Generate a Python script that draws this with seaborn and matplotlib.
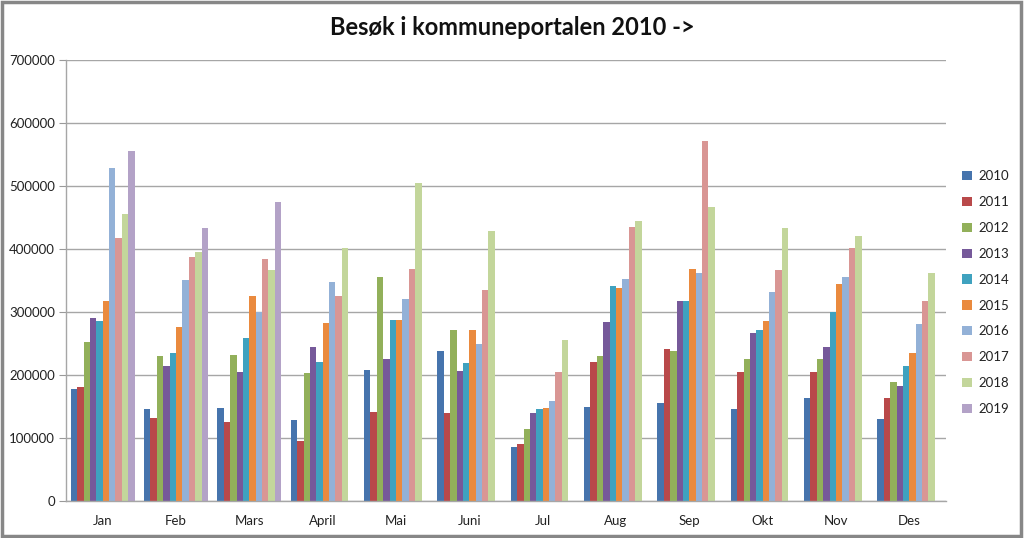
import numpy as np
import pandas as pd
import matplotlib
matplotlib.use("Agg")
import matplotlib.pyplot as plt
import seaborn as sns
from matplotlib.patches import Rectangle

months = ["Jan", "Feb", "Mars", "April", "Mai", "Juni", "Jul", "Aug", "Sep", "Okt", "Nov", "Des"]
years = ["2010", "2011", "2012", "2013", "2014", "2015", "2016", "2017", "2018", "2019"]

v2010 = [178000, 146000, 148000, 128000, 208000, 238000, 86000, 150000, 155000, 146000, 164000, 130000]
v2011 = [181000, 132000, 126000, 96000, 142000, 139000, 91000, 220000, 241000, 205000, 204000, 163000]
v2012 = [253000, 230000, 231000, 203000, 356000, 272000, 115000, 230000, 238000, 225000, 225000, 189000]
v2013 = [290000, 214000, 205000, 244000, 226000, 207000, 140000, 284000, 317000, 266000, 245000, 182000]
v2014 = [286000, 235000, 259000, 220000, 287000, 219000, 146000, 341000, 317000, 271000, 300000, 215000]
v2015 = [318000, 276000, 326000, 282000, 288000, 271000, 147000, 338000, 369000, 286000, 344000, 235000]
v2016 = [529000, 351000, 300000, 347000, 320000, 249000, 158000, 352000, 362000, 332000, 355000, 281000]
v2017 = [418000, 388000, 384000, 326000, 368000, 335000, 204000, 435000, 572000, 367000, 402000, 317000]
v2018 = [456000, 396000, 367000, 402000, 505000, 428000, 256000, 444000, 467000, 434000, 420000, 362000]
v2019 = [555000, 433000, 474000, None, None, None, None, None, None, None, None, None]

colors = ["#4674AD", "#B9494A", "#92B05A", "#76599A", "#3FA2BF", "#EA8A3E",
          "#93B1D7", "#D99694", "#C3D69B", "#B3A2C7"]

series = [v2010, v2011, v2012, v2013, v2014, v2015, v2016, v2017, v2018, v2019]
rows = []
for y, vals in zip(years, series):
    for m, v in zip(months, vals):
        if v is not None:
            rows.append({"Måned": m, "År": y, "Besøk": v})
df = pd.DataFrame(rows)

sns.set_theme(style="white")
plt.rcParams["font.family"] = ["Lato", "DejaVu Sans"]

fig = plt.figure(figsize=(10.24, 5.38), dpi=100)
ax = fig.add_axes([66 / 1024, 1 - 501 / 538, 880 / 1024, 441 / 538])

sns.barplot(data=df, x="Måned", y="Besøk", hue="År", order=months, hue_order=years,
            palette=colors, width=0.87, errorbar=None, saturation=1, ax=ax,
            linewidth=0, gap=0)

ax.set_ylim(0, 700000)
ax.set_xlim(-0.5, 11.5)
ax.set_yticks(np.arange(0, 700001, 100000))
ax.set_yticklabels([str(int(t)) for t in np.arange(0, 700001, 100000)], fontsize=9.5, color="#222222")
ax.tick_params(axis="x", labelsize=9.5, colors="#222222", length=0, pad=10)
ax.tick_params(axis="y", length=5, width=0.8, color="#999999", pad=3, left=True)
ax.yaxis.grid(True, color="#A6A6A6", linewidth=1.0)
ax.set_axisbelow(True)
ax.set_xlabel("")
ax.set_ylabel("")
for s in ["top", "right"]:
    ax.spines[s].set_visible(False)
for s in ["left", "bottom"]:
    ax.spines[s].set_color("#A6A6A6")
    ax.spines[s].set_linewidth(1.0)

leg = ax.legend(loc="upper left", bbox_to_anchor=(957 / 1024, 1 - 165 / 538),
                bbox_transform=fig.transFigure, frameon=False, fontsize=9.5,
                handlelength=0.7, handleheight=0.7, handletextpad=0.5,
                labelspacing=1.05, borderaxespad=0)
for t in leg.get_texts():
    t.set_color("#222222")

fig.suptitle("Besøk i kommuneportalen 2010 ->", fontsize=17, fontweight="bold",
             y=1 - 28 / 538, va="center", color="#111111")

fig.patches.append(Rectangle((0.002, 0.004), 0.995, 0.992, transform=fig.transFigure,
                             fill=False, edgecolor="#878787", linewidth=2.5))

fig.savefig("out.png", dpi=100)
